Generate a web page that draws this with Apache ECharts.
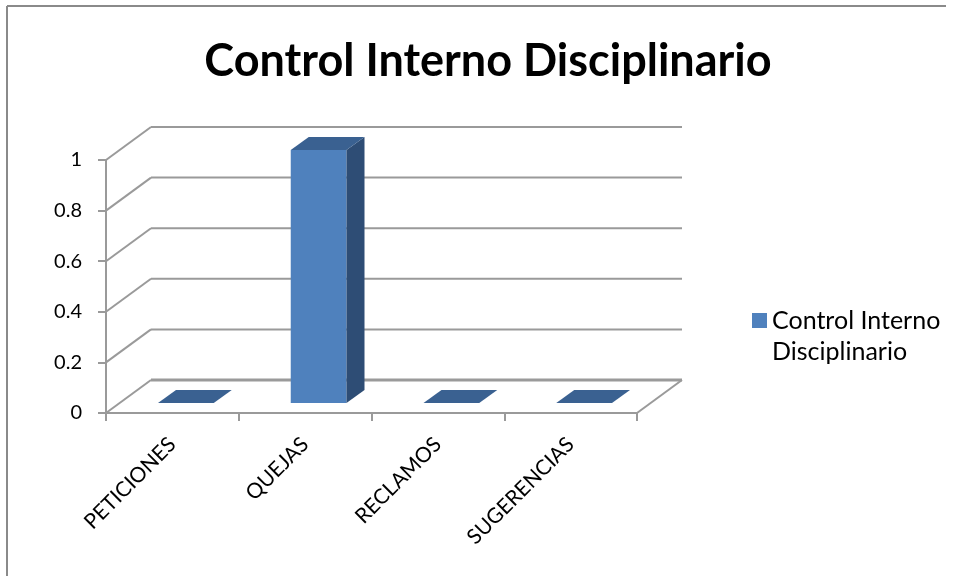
<!DOCTYPE html>
<html>
<head>
<meta charset="utf-8">
<script src="https://cdn.jsdelivr.net/npm/echarts@6/dist/echarts.min.js"></script>
<style>
html,body{margin:0;padding:0;background:#fff;}
#chart{width:953px;height:576px;}
</style>
</head>
<body>
<div id="chart"></div>
<script>
const categories = ['PETICIONES', 'QUEJAS', 'RECLAMOS', 'SUGERENCIAS'];
const values = [0, 1, 0, 0];
const yTicks = [0, 0.2, 0.4, 0.6, 0.8, 1];
const seriesName = 'Control Interno Disciplinario';
const titleText = 'Control Interno Disciplinario';

// styling / 3D projection constants
const DX = 45, DY = -33;
const FRONT = '#4F81BD', TOP = '#3A6191', SIDE = '#2E4D75';
const GRID_COLOR = '#9a9a9a';
const FONT = 'Lato';

const chart = echarts.init(document.getElementById('chart'));

function renderWall(params, api) {
  const v = api.value(1);
  const p = api.coord([0, v]);
  const bw = api.size([1, 0])[0];
  const left = p[0] - bw / 2;
  const right = left + bw * categories.length;
  const y = p[1];
  const isFloor = v === 0;
  const style = { stroke: GRID_COLOR, lineWidth: isFloor ? 3 : 2 };
  const children = [
    { type: 'line', shape: { x1: left, y1: y, x2: left + DX, y2: y + DY }, style: { stroke: GRID_COLOR, lineWidth: 2 } },
    { type: 'line', shape: { x1: left + DX, y1: y + DY, x2: right + DX, y2: y + DY }, style: style }
  ];
  if (isFloor) {
    children.push({ type: 'line', shape: { x1: right, y1: y, x2: right + DX, y2: y + DY }, style: { stroke: GRID_COLOR, lineWidth: 2 } });
  }
  return { type: 'group', children: children };
}

function renderBar(params, api) {
  const i = api.value(0), v = api.value(1);
  const base = api.coord([i, 0]);
  const top = api.coord([i, v]);
  const bw = api.size([1, 0])[0];
  const w = bw * 0.42;
  const fx = 0.3 * DX, fy = 0.3 * DY;
  const dx = 0.4 * DX, dy = 0.4 * DY;
  const x0 = base[0] - w / 2 + fx, x1 = x0 + w;
  const yb = base[1] + fy, yt = top[1] + fy;
  const children = [];
  if (v > 0) {
    children.push({ type: 'polygon', shape: { points: [[x0, yb], [x1, yb], [x1, yt], [x0, yt]] }, style: { fill: FRONT } });
    children.push({ type: 'polygon', shape: { points: [[x1, yb], [x1 + dx, yb + dy], [x1 + dx, yt + dy], [x1, yt]] }, style: { fill: SIDE } });
  }
  children.push({ type: 'polygon', shape: { points: [[x0, yt], [x1, yt], [x1 + dx, yt + dy], [x0 + dx, yt + dy]] }, style: { fill: TOP } });
  return { type: 'group', children: children };
}

const option = {
  backgroundColor: '#ffffff',
  animation: false,
  title: {
    text: titleText,
    left: 483,
    textAlign: 'center',
    top: 34,
    textStyle: { fontFamily: FONT, fontWeight: 'bold', fontSize: 45, color: '#000' }
  },
  legend: {
    data: [seriesName],
    left: 752,
    top: 274,
    padding: 0,
    itemWidth: 15,
    itemHeight: 15,
    icon: 'rect',
    formatter: function (name) { return ' \n' + name.replace(/ (?=\S+$)/, '\n'); },
    textStyle: { fontFamily: FONT, fontSize: 25, color: '#000', lineHeight: 31 }
  },
  graphic: [
    { type: 'line', z: -10, silent: true, shape: { x1: 7, y1: 6, x2: 7, y2: 576 }, style: { stroke: '#8a8a8a', lineWidth: 2 } },
    { type: 'line', z: -10, silent: true, shape: { x1: 7, y1: 6, x2: 946, y2: 6 }, style: { stroke: '#8a8a8a', lineWidth: 2 } }
  ],
  grid: { left: 106, top: 160, width: 531, height: 253 },
  xAxis: {
    type: 'category',
    data: categories,
    boundaryGap: true,
    axisLine: { show: true, lineStyle: { color: GRID_COLOR, width: 2 } },
    axisTick: { show: true, length: 8, lineStyle: { color: GRID_COLOR, width: 2 } },
    axisLabel: { rotate: 45, margin: 28, fontFamily: FONT, fontSize: 21, color: '#000' },
    splitLine: { show: false }
  },
  yAxis: {
    type: 'value',
    min: 0, max: 1, interval: 0.2,
    axisLine: { show: true, lineStyle: { color: GRID_COLOR, width: 2 } },
    axisTick: { show: true, length: 8, lineStyle: { color: GRID_COLOR, width: 2 } },
    axisLabel: { margin: 24, fontFamily: FONT, fontSize: 20, color: '#000',
      formatter: function (v) { return String(Math.round(v * 10) / 10); } },
    splitLine: { show: false }
  },
  series: [
    {
      name: 'wall', type: 'custom', renderItem: renderWall, silent: true, z: 1,
      data: yTicks.map(function (v) { return [0, v]; })
    },
    {
      name: seriesName, type: 'custom', renderItem: renderBar, z: 5,
      itemStyle: { color: FRONT },
      data: values.map(function (v, i) { return [i, v]; })
    }
  ]
};
chart.setOption(option);
</script>
</body>
</html>
